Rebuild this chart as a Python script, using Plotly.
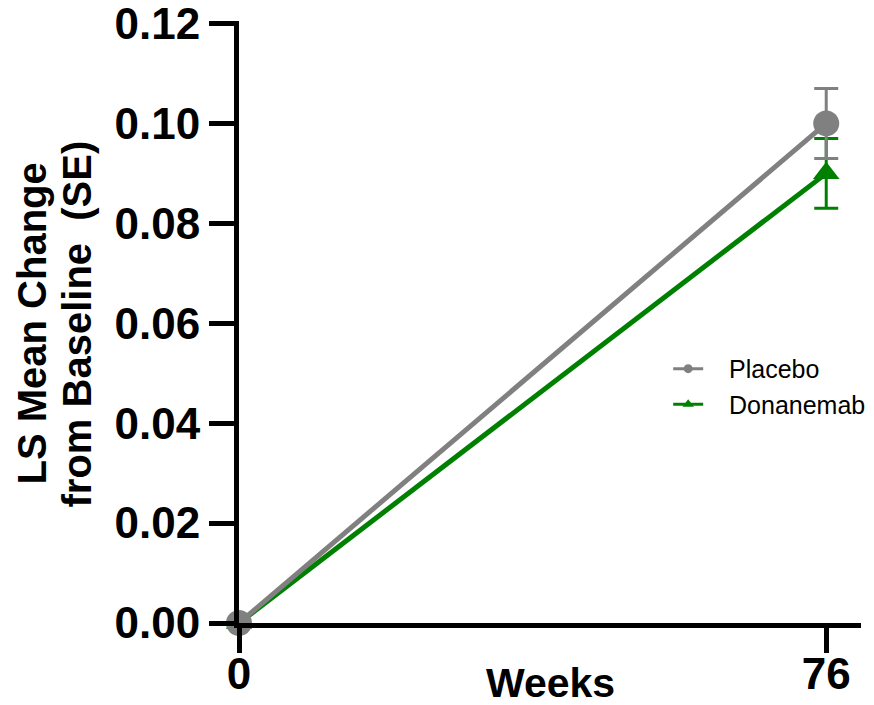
import plotly.graph_objects as go

# Visit schedule and least-squares mean change from baseline
weeks = [0, 76]
placebo_mean = [0.0, 0.10]
placebo_se = [0.0, 0.007]
donanemab_mean = [0.0, 0.09]
donanemab_se = [0.0, 0.007]
y_ticks = [0.00, 0.02, 0.04, 0.06, 0.08, 0.10, 0.12]

GRAY = "#808080"
GREEN = "#008000"
FONT = "Liberation Sans, Arial, sans-serif"
PAD = "\u00a0\u00a0\u00a0"  # gap between legend symbol and label

fig = go.Figure()

# Donanemab first so the placebo marker sits on top at baseline
fig.add_trace(go.Scatter(
    x=weeks, y=donanemab_mean, mode="lines+markers", name="Donanemab",
    showlegend=False,
    line=dict(color=GREEN, width=5),
    marker=dict(symbol="triangle-up", size=23, color=GREEN),
    error_y=dict(type="data", array=donanemab_se, color=GREEN, thickness=3, width=12),
    cliponaxis=False,
))
fig.add_trace(go.Scatter(
    x=weeks, y=placebo_mean, mode="lines+markers", name="Placebo",
    showlegend=False,
    line=dict(color=GRAY, width=5),
    marker=dict(symbol="circle", size=26, color=GRAY),
    error_y=dict(type="data", array=placebo_se, color=GRAY, thickness=3, width=12),
    cliponaxis=False,
))

# Legend entries with small symbols
fig.add_trace(go.Scatter(
    x=[None], y=[None], mode="lines+markers", name=PAD + "Placebo",
    line=dict(color=GRAY, width=3), marker=dict(symbol="circle", size=9, color=GRAY),
    legendrank=1,
))
fig.add_trace(go.Scatter(
    x=[None], y=[None], mode="lines+markers", name=PAD + "Donanemab",
    line=dict(color=GREEN, width=3), marker=dict(symbol="triangle-up", size=10, color=GREEN),
    legendrank=2,
))

axis_common = dict(
    showline=True, linecolor="black", linewidth=5,
    ticks="outside", ticklen=25, tickwidth=5, tickcolor="black",
    showgrid=False, zeroline=False, automargin=False,
    ticklabeloverflow="allow",
    tickfont=dict(family=FONT, size=44, color="black", weight="bold"),
)

fig.update_xaxes(
    range=[0, 80.5], tickmode="array", tickvals=weeks, ticktext=[str(w) for w in weeks],
    ticklabelstandoff=-17,
    **axis_common,
)
fig.update_yaxes(
    range=[0, 0.1205], tickmode="array", tickvals=y_ticks,
    ticktext=[f"{v:.2f}" for v in y_ticks],
    **axis_common,
)

fig.add_annotation(
    text="Weeks", xref="paper", yref="paper", x=0.5, y=-0.1,
    xanchor="center", yanchor="middle", showarrow=False,
    font=dict(family=FONT, size=41, color="black", weight="bold"),
)
# Two-line y-axis title, one annotation per line for tighter line spacing
title_font = dict(family=FONT, size=40, color="black", weight="bold")
fig.add_annotation(
    text="LS Mean Change", xref="paper", yref="paper",
    x=-0.3328, y=0.4975, xanchor="center", yanchor="middle", textangle=-90,
    showarrow=False, font=title_font,
)
fig.add_annotation(
    text="from Baseline \u00a0(SE)", xref="paper", yref="paper",
    x=-0.2605, y=0.4975, xanchor="center", yanchor="middle", textangle=-90,
    showarrow=False, font=title_font,
)

fig.update_layout(
    width=874, height=705,
    margin=dict(l=239, r=13, t=21, b=82, autoexpand=False),
    plot_bgcolor="white", paper_bgcolor="white",
    legend=dict(
        x=0.69, y=0.393, xanchor="left", yanchor="middle",
        font=dict(family=FONT, size=25, color="black"),
        bgcolor="rgba(0,0,0,0)", itemwidth=30, tracegroupgap=0,
    ),
)

fig.write_html("out.html")
